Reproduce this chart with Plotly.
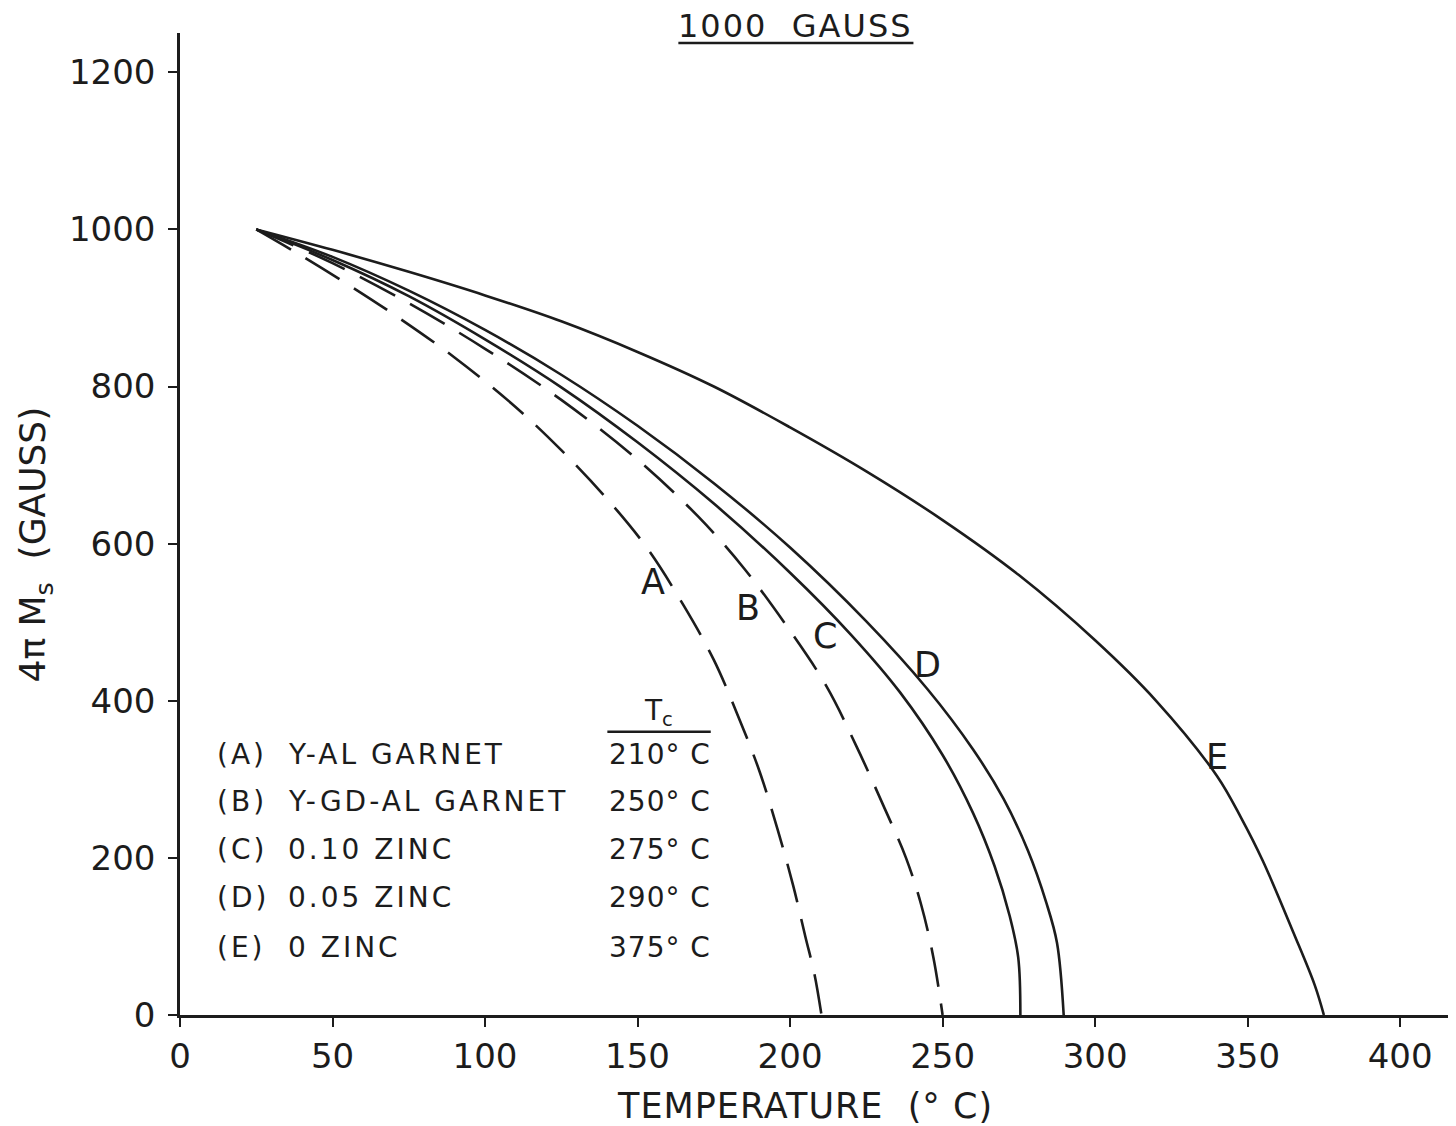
import plotly.graph_objects as go

# ---- data ----
a_x = [25, 40, 55, 70, 90, 110, 125, 140, 153, 165, 175, 183, 190, 196, 201, 205, 208, 210.3]
a_y = [1000, 966, 930, 892, 837, 774, 719, 657, 595, 522, 452, 380, 310, 235, 165, 100, 52, 0]

b_x = [25, 50, 75, 100, 125, 150, 170, 185, 200, 212, 222, 231, 238, 243, 247, 250]
b_y = [1000, 957, 906, 848, 783, 707, 634, 568, 489, 418, 340, 263, 200, 140, 73, 0]

c_x = [25, 50, 75, 100, 125, 150, 175, 200, 220, 236, 250, 260, 267, 272, 274.8, 275.5]
c_y = [1000, 961, 915, 860, 799, 729, 651, 563, 484, 411, 331, 257, 190, 126, 73, 0]

d_x = [25, 50, 75, 100, 125, 150, 175, 200, 225, 245, 260, 270, 278, 284, 287.5, 289.7]
d_y = [1000, 965, 922, 872, 815, 750, 677, 595, 501, 415, 338, 275, 209, 143, 92, 0]

e_x = [25, 50, 75, 100, 125, 150, 175, 200, 225, 250, 275, 300, 320, 340, 348, 355, 365, 372, 375]
e_y = [1000, 974, 946, 916, 883, 844, 800, 748, 692, 630, 560, 477, 400, 304, 250, 196, 105, 38, 0]

curve_labels = ["A", "B", "C", "D", "E"]
label_x = [154.9, 186.3, 211.3, 245.1, 340.1]
label_y = [550.7, 518.6, 482.7, 445.0, 329.0]

legend_keys = ["(A)", "(B)", "(C)", "(D)", "(E)"]
legend_names = ["Y-AL GARNET", "Y-GD-AL GARNET", "0.10 ZINC", "0.05 ZINC", "0 ZINC"]
legend_tc = ["210° C", "250° C", "275° C", "290° C", "375° C"]
legend_y = [331, 272, 210.5, 149, 86]

x_ticks = [0, 50, 100, 150, 200, 250, 300, 350, 400]
y_ticks = [0, 200, 400, 600, 800, 1000, 1200]

INK = "#1c1c1c"
FONT = "DejaVu Sans"


def spaced(txt, px):
    return '<span style="letter-spacing:%dpx">%s</span>' % (px, txt)


fig = go.Figure()
series = [(a_x, a_y, "40px,17px"), (b_x, b_y, "40px,17px"),
          (c_x, c_y, "solid"), (d_x, d_y, "solid"), (e_x, e_y, "solid")]
for (xs, ys, dash), name in zip(series, curve_labels):
    fig.add_trace(go.Scatter(x=xs, y=ys, mode="lines", name=name,
                             line=dict(color=INK, width=2.6, dash=dash,
                                       shape="spline", smoothing=1.0),
                             showlegend=False, hoverinfo="skip"))

# curve letters
for t, lx, ly in zip(curve_labels, label_x, label_y):
    fig.add_annotation(x=lx, y=ly, text=t, showarrow=False, xref="x", yref="y",
                       font=dict(family=FONT, size=35, color=INK))

# legend table
for k, n, tc, ly in zip(legend_keys, legend_names, legend_tc, legend_y):
    fig.add_annotation(x=11.6, y=ly, text=spaced(k, 3), showarrow=False, xanchor="left",
                       font=dict(family=FONT, size=28, color=INK))
    fig.add_annotation(x=34.6, y=ly, text=spaced(n, 3), showarrow=False, xanchor="left",
                       font=dict(family=FONT, size=28, color=INK))
    fig.add_annotation(x=140.1, y=ly, text=spaced(tc, 1), showarrow=False, xanchor="left",
                       font=dict(family=FONT, size=28, color=INK))

fig.add_annotation(x=157, y=385, text="T<sub>c</sub>", showarrow=False,
                   font=dict(family=FONT, size=28, color=INK))
fig.add_shape(type="line", xref="x", yref="y", x0=140.1, x1=174, y0=360.7, y1=360.7,
              line=dict(color=INK, width=2.5))

# title with underline
fig.add_annotation(xref="paper", yref="paper", x=0.4838, y=1.007, yanchor="middle",
                   text=spaced("1000  GAUSS", 2), showarrow=False,
                   font=dict(family=FONT, size=32, color=INK))
fig.add_shape(type="line", xref="paper", yref="paper", x0=0.3918, x1=0.5766,
              y0=0.9897, y1=0.9897, line=dict(color=INK, width=2.5))

# axis titles
fig.add_annotation(xref="paper", yref="paper", x=0.4917, y=-0.093, yanchor="middle",
                   text=spaced("TEMPERATURE  (° C)", 1), showarrow=False,
                   font=dict(family=FONT, size=35, color=INK))
fig.add_annotation(xref="paper", yref="paper", x=-0.1137, y=0.4795, xanchor="center",
                   yanchor="middle", textangle=-90,
                   text="4π M<sub>s</sub>  (GAUSS)", showarrow=False,
                   font=dict(family=FONT, size=36, color=INK))

# the page body adds an 8px margin, so the figure is sized 8px smaller
fig.update_layout(
    width=1448, height=1118,
    margin=dict(l=172, r=4, t=25, b=111),
    paper_bgcolor="white", plot_bgcolor="white",
    xaxis=dict(range=[0, 417], tickvals=x_ticks, showgrid=False, zeroline=False,
               automargin=False,
               showline=True, linecolor=INK, linewidth=2.5,
               ticks="outside", ticklen=9, tickwidth=1.5, tickcolor=INK,
               tickfont=dict(family=FONT, size=34, color=INK)),
    yaxis=dict(range=[0, 1250], tickvals=y_ticks, showgrid=False, zeroline=False,
               automargin=False,
               showline=True, linecolor=INK, linewidth=2.5,
               ticks="outside", ticklen=9, tickwidth=1.5, tickcolor=INK,
               ticklabelstandoff=6,
               tickfont=dict(family=FONT, size=34, color=INK)),
)

fig.write_html("out.html")
